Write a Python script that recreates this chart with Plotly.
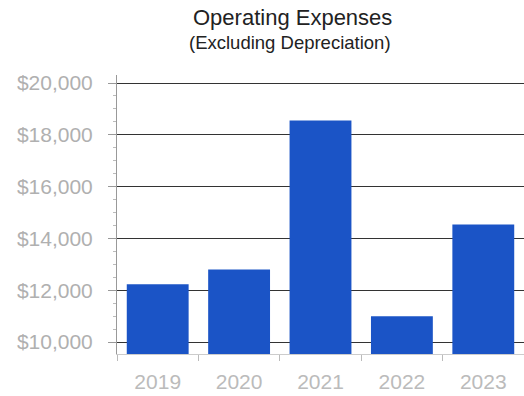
import plotly.graph_objects as go

years = ["2019", "2020", "2021", "2022", "2023"]
expenses = [12230, 12800, 18550, 11000, 14540]
tick_vals = [10000, 12000, 14000, 16000, 18000, 20000]
tick_text = ["$10,000", "$12,000", "$14,000", "$16,000", "$18,000", "$20,000"]
y_min, y_max = 9540, 20310

fig = go.Figure(go.Bar(
    x=years, y=[v - y_min for v in expenses], base=y_min,
    marker=dict(color="#1b54c6", line=dict(width=0)),
))

fig.update_layout(
    width=524, height=396,
    margin=dict(l=117, r=0, t=75, b=42),
    paper_bgcolor="white", plot_bgcolor="white",
    bargap=0.24,
    showlegend=False,
    font=dict(family="Liberation Sans, Arial, sans-serif"),
    annotations=[
        dict(text="Operating Expenses", xref="paper", yref="paper",
             x=(292 - 117) / 407, y=1 + (75 - 18) / 279, xanchor="center", yanchor="middle",
             showarrow=False, font=dict(size=22, color="#222")),
        dict(text="(Excluding Depreciation)", xref="paper", yref="paper",
             x=(290 - 117) / 407, y=1 + (75 - 42) / 279, xanchor="center", yanchor="middle",
             showarrow=False, font=dict(size=18.5, color="#222")),
    ],
)
fig.update_yaxes(
    range=[y_min, y_max], tickvals=tick_vals, ticktext=tick_text,
    showgrid=True, gridcolor="#333", gridwidth=1,
    showline=True, linecolor="#999", linewidth=1,
    ticks="outside", ticklen=8, tickcolor="#999",
    ticklabelstandoff=11,
    tickfont=dict(size=21, color="#b0b0b0"),
    minor=dict(dtick=500, ticks="outside", ticklen=3, tickcolor="#bbb", showgrid=False),
    zeroline=False,
)
fig.update_xaxes(
    showline=True, linecolor="#ccc", linewidth=1,
    tickfont=dict(size=21, color="#bbb"),
    ticks="outside", tickson="boundaries", ticklen=6, tickcolor="#bbb",
    ticklabelstandoff=9,
)
fig.write_html("out.html")
